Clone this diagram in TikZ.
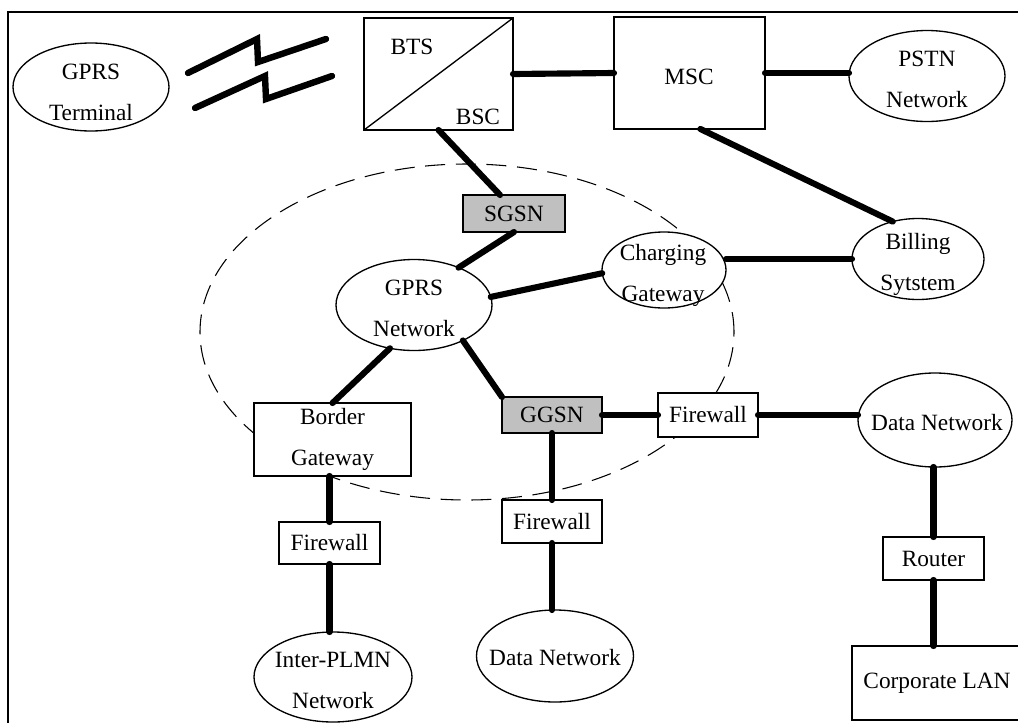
\documentclass[tikz,border=0pt]{standalone}
\usepackage{fontspec}
\setmainfont{Liberation Serif}
\usetikzlibrary{shapes.geometric,calc}
\definecolor{gsngrey}{RGB}{192,192,192}
\newcommand\labelfont{\fontsize{17.5pt}{30.75pt}\selectfont}

\begin{document}
\begin{tikzpicture}[x=0.75pt,y=-0.75pt,
  every node/.style={font=\labelfont, inner sep=0pt, outer sep=0pt},
  sz/.style 2 args={minimum width=#1*0.75pt, minimum height=#2*0.75pt},
  box/.style={draw, line width=1pt, rectangle, fill=white, align=center},
  gsn/.style={box, fill=gsngrey},
  oval/.style={draw, line width=1pt, ellipse, fill=white},
  words/.style={align=center},
  link/.style={line width=4.6pt, line cap=round},
  zap/.style={line width=4.8pt, line cap=round},
  zone/.style={draw, ellipse, line width=0.8pt, dash pattern=on 15pt off 8pt},
]
\useasboundingbox (0,0) rectangle (1018,722);
\clip (0,0) rectangle (1018,722);

% outer frame (runs past the right and lower edges)
\draw[line width=1.5pt] (8,12) rectangle (1040,740);

% GPRS core area
\node[zone, sz={534}{336}] (core) at (467,332) {};

% radio side
\node[oval, sz={156}{88}] (term) at (91,87) {};
\node[words] (term-t) at (91,92) {GPRS\\Terminal};
\draw[zap] (188,73) -- (257,39) -- (258,62) -- (326,39);
\draw[zap] (195,108) -- (265,76) -- (266,99) -- (332,76);

\node[box, sz={149}{112}] (bts) at (438.5,74) {};
\draw[line width=1pt] (bts.south west) -- (bts.north east);
\node (bts-t) at (412,47) {BTS};
\node (bsc-t) at (478,117) {BSC};

\node[box, sz={151}{112}] (msc) at (689.5,73) {};
\node (msc-t) at (689,77) {MSC};

\node[oval, sz={156}{91}] (pstn) at (927,76) {};
\node[words] (pstn-t) at (927,79) {PSTN\\Network};

\node[oval, sz={132}{81}] (bill) at (918,259) {};
\node[words] (bill-t) at (918,264) {Billing\\Sytstem};

% packet core
\node[gsn, sz={102}{37}] (sgsn) at (514,213.5) {SGSN};

\node[oval, sz={156}{91}] (gprs) at (414,305) {};
\node[words] (gprs-t) at (414,308) {GPRS\\Network};

\node[oval, sz={124}{76}] (charg) at (664,270) {};
\node[words] (charg-t) at (663,275) {Charging\\Gateway};

\node[box, sz={157}{73}] (border) at (332.5,439.5) {Border\\Gateway};
\node[gsn, sz={100}{36}] (ggsn) at (552,415) {GGSN};

% firewalls and outside networks
\node[box, sz={100}{44}] (fw1) at (708,415) {Firewall};
\node[oval, sz={154}{94}] (dn1) at (935,420) {};
\node (dn1-t) at (937,423) {Data Network};
\node[box, sz={101}{43}] (router) at (933.5,558.5) {Router};
\node[box, sz={170}{74}] (corp) at (937,683) {Corporate LAN};

\node[box, sz={100}{43}] (fw2) at (552,521.5) {Firewall};
\node[oval, sz={157}{92}] (dn2) at (555,656) {};
\node (dn2-t) at (555,658) {Data Network};

\node[box, sz={101}{42}] (fw3) at (329.5,543) {Firewall};
\node[oval, sz={158}{90}] (plmn) at (333,677) {};
\node[words] (plmn-t) at (333,680) {Inter-PLMN\\Network};

% links
\draw[link] (bts.east) -- (msc.west);
\draw[link] (msc.east) -- (msc.east -| pstn.west);
\draw[link] (msc.-79) -- (bill.124);
\draw[link] (bts.south) -- (sgsn.127);
\draw[link] (sgsn.south) -- (gprs.40);
\draw[link] (gprs.6) -- (charg.183);
\draw[link] (bill.west -| charg.east) -- (bill.west);
\draw[link] (gprs.-119) -- (border.north);
\draw[link] (gprs.-36) -- (ggsn.north west);
\draw[link] (ggsn.east) -- (fw1.west);
\draw[link] (fw1.east) -- (fw1.east -| dn1.west);
\draw[link] (router.north |- dn1.south) -- (router.north);
\draw[link] (router.south) -- (router.south |- corp.north);
\draw[link] (ggsn.south) -- (fw2.north);
\draw[link] (fw2.south) -- (fw2.south |- dn2.north);
\draw[link] (fw3.north |- border.south) -- (fw3.north);
\draw[link] (fw3.south) -- (fw3.south |- plmn.north);
\end{tikzpicture}
\end{document}
